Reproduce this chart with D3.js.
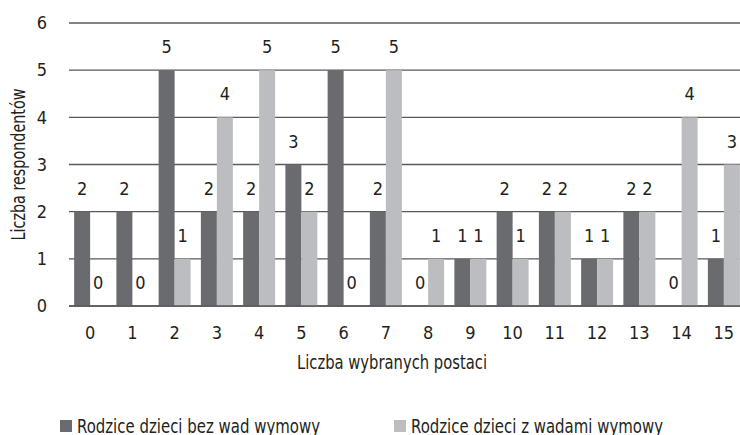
<!DOCTYPE html>
<html><head><meta charset="utf-8">
<script src="https://cdn.jsdelivr.net/npm/d3@7"></script>
<style>
html,body{margin:0;padding:0;background:#fff;}
svg text{font-family:"DejaVu Sans Condensed","Liberation Sans Narrow",sans-serif;fill:#231f20;}
</style></head>
<body>
<svg id="chart" width="740" height="435"></svg>
<script>
const categories = ["0","1","2","3","4","5","6","7","8","9","10","11","12","13","14","15"];
const seriesNames = ["Rodzice dzieci bez wad wymowy","Rodzice dzieci z wadami wymowy"];
const seriesBez = [2,2,5,2,2,3,5,2,0,1,2,2,1,2,0,1];
const seriesZ   = [0,0,1,4,5,2,0,5,1,1,1,2,1,2,4,3];
const yTicks = [0,1,2,3,4,5,6];
const colors = ["#6a6b6f","#bcbdc0"];
const xTitle = "Liczba wybranych postaci";
const yTitle = "Liczba respondentów";

const svg = d3.select("#chart");
const W = 740, H = 435;
const plot = {left:69, right:745, top:23, bottom:306};

const x0 = d3.scaleBand().domain(categories).range([plot.left, plot.right])
  .paddingInner(0.243).paddingOuter(0.1215);
const x1 = d3.scaleBand().domain([0,1]).range([0, x0.bandwidth()]);
const y = d3.scaleLinear().domain([0,6]).range([plot.bottom, plot.top]);

// grid lines
svg.append("g").selectAll("line").data(yTicks).join("line")
  .attr("x1", plot.left).attr("x2", W)
  .attr("y1", d => y(d)).attr("y2", d => y(d))
  .attr("stroke", "#58595b").attr("stroke-width", 1.3);

// y tick labels
svg.append("g").selectAll("text").data(yTicks).join("text")
  .attr("x", 47).attr("y", d => y(d)).attr("dy", "0.35em")
  .attr("text-anchor", "end").attr("font-size", 18).text(d => d);

const data = categories.map((c,i) => ({c, vals:[seriesBez[i], seriesZ[i]]}));

const groups = svg.append("g").selectAll("g").data(data).join("g")
  .attr("transform", d => `translate(${x0(d.c)},0)`);

groups.selectAll("rect").data(d => d.vals.map((v,s) => ({v,s}))).join("rect")
  .attr("x", d => x1(d.s)).attr("width", x1.bandwidth())
  .attr("y", d => y(d.v)).attr("height", d => y(0) - y(d.v))
  .attr("fill", d => colors[d.s]);

groups.selectAll("text").data(d => d.vals.map((v,s) => ({v,s}))).join("text")
  .attr("x", d => x1(d.s) + x1.bandwidth()/2)
  .attr("y", d => y(d.v) - 17)
  .attr("text-anchor", "middle").attr("font-size", 18).text(d => d.v);

// redraw zero line on top
svg.append("line").attr("x1", plot.left).attr("x2", W)
  .attr("y1", y(0)).attr("y2", y(0)).attr("stroke", "#58595b").attr("stroke-width", 1.3);

// x tick labels
svg.append("g").selectAll("text").data(categories).join("text")
  .attr("x", d => x0(d) + x0.bandwidth()/2).attr("y", 339)
  .attr("text-anchor", "middle").attr("font-size", 18).text(d => d);

// axis titles
svg.append("text").attr("x", 392).attr("y", 369).attr("text-anchor", "middle")
  .attr("font-size", 19).attr("textLength", 190).attr("lengthAdjust", "spacingAndGlyphs").text(xTitle);
svg.append("text").attr("transform", `translate(25,${(plot.top+plot.bottom)/2}) rotate(-90)`)
  .attr("text-anchor", "middle").attr("font-size", 19)
  .attr("textLength", 152).attr("lengthAdjust", "spacingAndGlyphs").text(yTitle);

// legend
const legendX = [60, 394];
const legendW = [243, 252];
const leg = svg.append("g").selectAll("g").data(seriesNames).join("g")
  .attr("transform", (d,i) => `translate(${legendX[i]},420)`);
leg.append("rect").attr("width", 12).attr("height", 12).attr("fill", (d,i) => colors[i]);
leg.append("text").attr("x", 17).attr("y", 12.5).attr("font-size", 19)
  .attr("textLength", (d,i) => legendW[i]).attr("lengthAdjust", "spacingAndGlyphs").text(d => d);
</script>
</body></html>
